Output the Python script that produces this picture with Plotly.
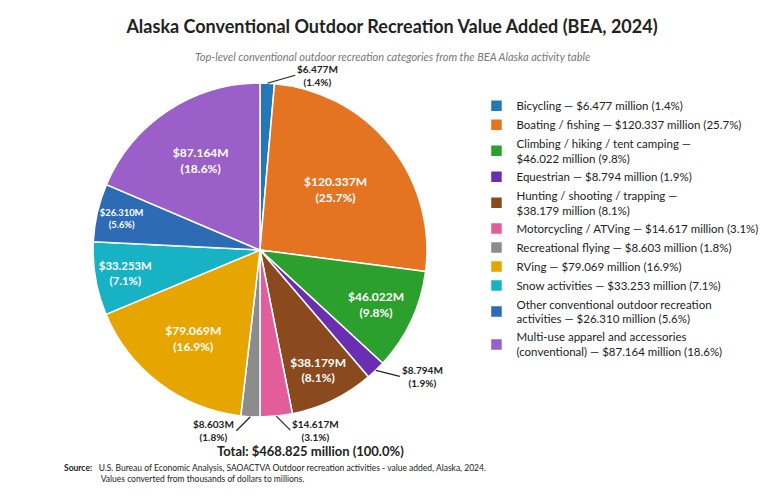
import math
import plotly.graph_objects as go

categories = ["Bicycling", "Boating / fishing", "Climbing / hiking / tent camping", "Equestrian",
              "Hunting / shooting / trapping", "Motorcycling / ATVing", "Recreational flying",
              "RVing", "Snow activities", "Other conventional outdoor recreation activities",
              "Multi-use apparel and accessories (conventional)"]
values = [6.477, 120.337, 46.022, 8.794, 38.179, 14.617, 8.603, 79.069, 33.253, 26.310, 87.164]
shares = [1.4, 25.7, 9.8, 1.9, 8.1, 3.1, 1.8, 16.9, 7.1, 5.6, 18.6]
legend_labels = [
    "Bicycling — $6.477 million (1.4%)",
    "Boating / fishing — $120.337 million (25.7%)",
    "Climbing / hiking / tent camping —<br>$46.022 million (9.8%)",
    "Equestrian — $8.794 million (1.9%)",
    "Hunting / shooting / trapping —<br>$38.179 million (8.1%)",
    "Motorcycling / ATVing — $14.617 million (3.1%)",
    "Recreational flying — $8.603 million (1.8%)",
    "RVing — $79.069 million (16.9%)",
    "Snow activities — $33.253 million (7.1%)",
    "Other conventional outdoor recreation<br>activities — $26.310 million (5.6%)",
    "Multi-use apparel and accessories<br>(conventional) — $87.164 million (18.6%)",
]
colors = ["#2378b5", "#e47322", "#2ca02c", "#6a2fb0", "#8a4a1e", "#e35d9a", "#8c8c8c",
          "#e6a500", "#17b3c4", "#2d6bb5", "#9a5fc8"]

# leader-line offsets (px) for the thin slices labelled outside
callouts = {0: (28, -8), 3: (24, 6), 5: (14, 14), 6: (-14, 14)}
texts = [f"<b>${v:.3f}M<br>({s}%)</b>" for v, s in zip(values, shares)]
inside_texts = ["" if i in callouts else t for i, t in enumerate(texts)]

W, H, T, B = 768, 501, 52, 58
dom_x = [0.1107, 0.5456]
dom_y = [0.087, 0.941]
plot_h = H - T - B

fig = go.Figure(go.Pie(
    labels=legend_labels, values=values, text=inside_texts, textinfo="text",
    textposition="inside", sort=False, direction="clockwise", rotation=0,
    marker=dict(colors=colors, line=dict(color="white", width=1.5)),
    insidetextfont=dict(color="white", size=12),
    insidetextorientation="horizontal",
    domain=dict(x=dom_x, y=dom_y),
))

cx = sum(dom_x) / 2
cy = sum(dom_y) / 2
r_px = (dom_y[1] - dom_y[0]) * plot_h / 2
total = sum(values)
label_ann = []
cum = 0
for i, v in enumerate(values):
    mid = (cum + v / 2) / total * 2 * math.pi
    cum += v
    if i not in callouts:
        continue
    px, py = r_px * math.sin(mid), r_px * math.cos(mid)
    ax, ay = callouts[i]
    label_ann.append(dict(text=texts[i], x=cx + px / W, y=cy + py / plot_h, xref="paper",
                          yref="paper", ax=ax, ay=ay, showarrow=True, arrowhead=0,
                          arrowwidth=1.2, arrowcolor="#222",
                          xanchor="left" if ax > 0 else "right",
                          font=dict(size=10, color="#222")))

fig.update_layout(
    width=W, height=H, paper_bgcolor="white",
    font=dict(family="Lato, Open Sans, sans-serif", color="#222"),
    margin=dict(l=0, r=0, t=T, b=B),
    title=dict(text="<b>Alaska Conventional Outdoor Recreation Value Added (BEA, 2024)</b>",
               x=0.5, y=0.975, xanchor="center", font=dict(size=18, color="#222")),
    legend=dict(x=0.61, y=0.92, xanchor="left", yanchor="top", font=dict(size=11.5),
                tracegroupgap=0, itemwidth=30),
    annotations=label_ann + [
        dict(text="<i>Top-level conventional outdoor recreation categories from the BEA Alaska activity table</i>",
             x=0.5, y=1.0, xref="paper", yref="paper", yshift=12, showarrow=False,
             font=dict(size=11, color="#777")),
        dict(text="<b>Total: $468.825 million (100.0%)</b>", x=0.27, y=0.0, xref="paper",
             yref="paper", yshift=-10, showarrow=False, font=dict(size=13)),
        dict(text="<b>Source:</b>   U.S. Bureau of Economic Analysis, SAOACTVA Outdoor recreation activities - value added, Alaska, 2024.<br>"
                  "                 Values converted from thousands of dollars to millions.",
             x=0.07, y=0, xref="paper", yref="paper", yshift=-35, xanchor="left", align="left",
             showarrow=False, font=dict(size=8.5)),
    ],
)

fig.write_html("out.html")
